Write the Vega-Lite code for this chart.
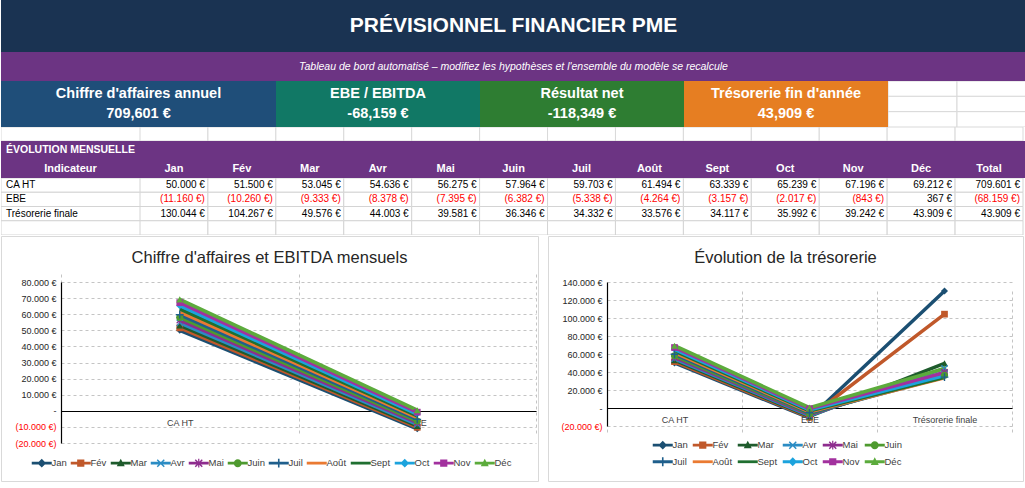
{
  "$schema": "https://vega.github.io/schema/vega-lite/v6.json",
  "padding": 0,
  "background": "white",
  "spacing": 0,
  "config": {
    "view": {"stroke": null},
    "axis": {"labelFont": "Liberation Sans"},
    "legend": {"labelFont": "Liberation Sans"}
  },
  "datasets": {
    "table": [
      {"ind": "CA HT", "col": "Jan", "v": 50000}, {"ind": "CA HT", "col": "Fév", "v": 51500}, {"ind": "CA HT", "col": "Mar", "v": 53045},
      {"ind": "CA HT", "col": "Avr", "v": 54636}, {"ind": "CA HT", "col": "Mai", "v": 56275}, {"ind": "CA HT", "col": "Juin", "v": 57964},
      {"ind": "CA HT", "col": "Juil", "v": 59703}, {"ind": "CA HT", "col": "Août", "v": 61494}, {"ind": "CA HT", "col": "Sept", "v": 63339},
      {"ind": "CA HT", "col": "Oct", "v": 65239}, {"ind": "CA HT", "col": "Nov", "v": 67196}, {"ind": "CA HT", "col": "Déc", "v": 69212},
      {"ind": "CA HT", "col": "Total", "v": 709601},
      {"ind": "EBE", "col": "Jan", "v": -11160}, {"ind": "EBE", "col": "Fév", "v": -10260}, {"ind": "EBE", "col": "Mar", "v": -9333},
      {"ind": "EBE", "col": "Avr", "v": -8378}, {"ind": "EBE", "col": "Mai", "v": -7395}, {"ind": "EBE", "col": "Juin", "v": -6382},
      {"ind": "EBE", "col": "Juil", "v": -5338}, {"ind": "EBE", "col": "Août", "v": -4264}, {"ind": "EBE", "col": "Sept", "v": -3157},
      {"ind": "EBE", "col": "Oct", "v": -2017}, {"ind": "EBE", "col": "Nov", "v": -843}, {"ind": "EBE", "col": "Déc", "v": 367},
      {"ind": "EBE", "col": "Total", "v": -68159},
      {"ind": "Trésorerie finale", "col": "Jan", "v": 130044}, {"ind": "Trésorerie finale", "col": "Fév", "v": 104267}, {"ind": "Trésorerie finale", "col": "Mar", "v": 49576},
      {"ind": "Trésorerie finale", "col": "Avr", "v": 44003}, {"ind": "Trésorerie finale", "col": "Mai", "v": 39581}, {"ind": "Trésorerie finale", "col": "Juin", "v": 36346},
      {"ind": "Trésorerie finale", "col": "Juil", "v": 34332}, {"ind": "Trésorerie finale", "col": "Août", "v": 33576}, {"ind": "Trésorerie finale", "col": "Sept", "v": 34117},
      {"ind": "Trésorerie finale", "col": "Oct", "v": 35992}, {"ind": "Trésorerie finale", "col": "Nov", "v": 39242}, {"ind": "Trésorerie finale", "col": "Déc", "v": 43909},
      {"ind": "Trésorerie finale", "col": "Total", "v": 43909},
      {"ind": "", "col": "Jan", "v": null}, {"ind": "", "col": "Fév", "v": null}, {"ind": "", "col": "Mar", "v": null},
      {"ind": "", "col": "Avr", "v": null}, {"ind": "", "col": "Mai", "v": null}, {"ind": "", "col": "Juin", "v": null},
      {"ind": "", "col": "Juil", "v": null}, {"ind": "", "col": "Août", "v": null}, {"ind": "", "col": "Sept", "v": null},
      {"ind": "", "col": "Oct", "v": null}, {"ind": "", "col": "Nov", "v": null}, {"ind": "", "col": "Déc", "v": null},
      {"ind": "", "col": "Total", "v": null}
    ]
  },
  "vconcat": [
    {
      "width": 1025, "height": 52,
      "view": {"fill": "#1a3352", "stroke": null},
      "data": {"values": [{"t": "PRÉVISIONNEL FINANCIER PME"}]},
      "mark": {"type": "text", "color": "white", "font": "Liberation Sans", "fontWeight": "bold", "fontSize": 21},
      "encoding": {"text": {"field": "t"}}
    },
    {
      "width": 1025, "height": 29,
      "view": {"fill": "#6c3483", "stroke": null},
      "data": {"values": [{"t": "Tableau de bord automatisé – modifiez les hypothèses et l'ensemble du modèle se recalcule"}]},
      "mark": {"type": "text", "color": "white", "font": "Liberation Sans", "fontStyle": "italic", "fontSize": 10.5},
      "encoding": {"text": {"field": "t"}}
    },
    {
      "hconcat": [
        {
          "width": 275, "height": 46,
          "view": {"fill": "#1f4e79", "stroke": null},
          "data": {"values": [{"p": "t", "s": "Chiffre d'affaires annuel"}, {"p": "v", "n": 709601}]},
          "transform": [{"calculate": "datum.p == 't' ? datum.s : (datum.n < 0 ? '-' : '') + format(abs(datum.n), ',') + ' €'", "as": "lab"}],
          "mark": {"type": "text", "color": "white", "font": "Liberation Sans", "fontWeight": "bold", "fontSize": 14.5},
          "encoding": {
            "y": {"field": "p", "type": "nominal", "bandPosition": 0.5, "scale": {"type": "band", "domain": ["t", "v"], "paddingInner": 0, "paddingOuter": 0.1}, "axis": null},
            "text": {"field": "lab"}
          }
        },
        {
          "width": 204, "height": 46,
          "view": {"fill": "#117865", "stroke": null},
          "data": {"values": [{"p": "t", "s": "EBE / EBITDA"}, {"p": "v", "n": -68159}]},
          "transform": [{"calculate": "datum.p == 't' ? datum.s : (datum.n < 0 ? '-' : '') + format(abs(datum.n), ',') + ' €'", "as": "lab"}],
          "mark": {"type": "text", "color": "white", "font": "Liberation Sans", "fontWeight": "bold", "fontSize": 14.5},
          "encoding": {
            "y": {"field": "p", "type": "nominal", "bandPosition": 0.5, "scale": {"type": "band", "domain": ["t", "v"], "paddingInner": 0, "paddingOuter": 0.1}, "axis": null},
            "text": {"field": "lab"}
          }
        },
        {
          "width": 204, "height": 46,
          "view": {"fill": "#2e7d32", "stroke": null},
          "data": {"values": [{"p": "t", "s": "Résultat net"}, {"p": "v", "n": -118349}]},
          "transform": [{"calculate": "datum.p == 't' ? datum.s : (datum.n < 0 ? '-' : '') + format(abs(datum.n), ',') + ' €'", "as": "lab"}],
          "mark": {"type": "text", "color": "white", "font": "Liberation Sans", "fontWeight": "bold", "fontSize": 14.5},
          "encoding": {
            "y": {"field": "p", "type": "nominal", "bandPosition": 0.5, "scale": {"type": "band", "domain": ["t", "v"], "paddingInner": 0, "paddingOuter": 0.1}, "axis": null},
            "text": {"field": "lab"}
          }
        },
        {
          "width": 204, "height": 46,
          "view": {"fill": "#e67e22", "stroke": null},
          "data": {"values": [{"p": "t", "s": "Trésorerie fin d'année"}, {"p": "v", "n": 43909}]},
          "transform": [{"calculate": "datum.p == 't' ? datum.s : (datum.n < 0 ? '-' : '') + format(abs(datum.n), ',') + ' €'", "as": "lab"}],
          "mark": {"type": "text", "color": "white", "font": "Liberation Sans", "fontWeight": "bold", "fontSize": 14.5},
          "encoding": {
            "y": {"field": "p", "type": "nominal", "bandPosition": 0.5, "scale": {"type": "band", "domain": ["t", "v"], "paddingInner": 0, "paddingOuter": 0.1}, "axis": null},
            "text": {"field": "lab"}
          }
        },
        {
          "width": 138, "height": 46,
          "data": {"values": [{"col": "N", "r": "1"}, {"col": "O", "r": "1"}, {"col": "N", "r": "2"}, {"col": "O", "r": "2"}, {"col": "N", "r": "3"}, {"col": "O", "r": "3"}]},
          "mark": {"type": "rect", "fill": "white", "stroke": "#d9d9d9", "strokeWidth": 1, "clip": true},
          "encoding": {
            "x": {"field": "col", "type": "nominal", "scale": {"type": "band", "paddingInner": 0, "paddingOuter": 0}, "axis": null},
            "y": {"field": "r", "type": "nominal", "scale": {"type": "band", "paddingInner": 0, "paddingOuter": 0}, "axis": null}
          }
        }
      ],
      "spacing": 0,
      "bounds": "flush"
    },
    {
      "hconcat": [
        {
          "width": 139, "height": 14,
          "data": {"values": [{"col": "Indicateur", "r": "g"}]},
          "mark": {"type": "rect", "fill": "white", "stroke": "#d9d9d9", "strokeWidth": 1, "clip": true},
          "encoding": {
            "x": {"field": "col", "type": "nominal", "scale": {"type": "band", "paddingInner": 0, "paddingOuter": 0}, "axis": null},
            "y": {"field": "r", "type": "nominal", "scale": {"type": "band", "paddingInner": 0, "paddingOuter": 0}, "axis": null}
          }
        },
        {
          "width": 886, "height": 14,
          "data": {"values": [{"col": "Jan", "r": "g"}, {"col": "Fév", "r": "g"}, {"col": "Mar", "r": "g"}, {"col": "Avr", "r": "g"}, {"col": "Mai", "r": "g"}, {"col": "Juin", "r": "g"}, {"col": "Juil", "r": "g"}, {"col": "Août", "r": "g"}, {"col": "Sept", "r": "g"}, {"col": "Oct", "r": "g"}, {"col": "Nov", "r": "g"}, {"col": "Déc", "r": "g"}, {"col": "Total", "r": "g"}]},
          "mark": {"type": "rect", "fill": "white", "stroke": "#d9d9d9", "strokeWidth": 1, "clip": true},
          "encoding": {
            "x": {"field": "col", "type": "nominal", "sort": null, "scale": {"type": "band", "paddingInner": 0, "paddingOuter": 0.022, "align": 0}, "axis": null},
            "y": {"field": "r", "type": "nominal", "scale": {"type": "band", "paddingInner": 0, "paddingOuter": 0}, "axis": null}
          }
        }
      ],
      "spacing": 0,
      "bounds": "flush"
    },
    {
      "hconcat": [
        {
          "width": 139, "height": 37,
          "view": {"fill": "#6c3483", "stroke": null},
          "data": {"values": [{"col": "Indicateur", "r": "sec", "t": "ÉVOLUTION MENSUELLE"}, {"col": "Indicateur", "r": "head", "t": "Indicateur"}]},
          "encoding": {
            "x": {"field": "col", "type": "nominal", "scale": {"type": "band", "paddingInner": 0, "paddingOuter": 0}, "axis": null},
            "y": {"field": "r", "type": "nominal", "bandPosition": 0.5, "scale": {"type": "band", "domain": ["sec", "head"], "paddingInner": 0, "paddingOuter": 0}, "axis": null},
            "text": {"field": "t"}
          },
          "layer": [
            {
              "transform": [{"filter": "datum.r == 'sec'"}],
              "mark": {"type": "text", "align": "left", "dx": 5, "color": "white", "font": "Liberation Sans", "fontWeight": "bold", "fontSize": 10.5},
              "encoding": {"x": {"field": "col", "type": "nominal", "bandPosition": 0}}
            },
            {
              "transform": [{"filter": "datum.r == 'head'"}],
              "mark": {"type": "text", "align": "center", "color": "white", "font": "Liberation Sans", "fontWeight": "bold", "fontSize": 11},
              "encoding": {"x": {"field": "col", "type": "nominal", "bandPosition": 0.5}}
            }
          ]
        },
        {
          "width": 886, "height": 37,
          "view": {"fill": "#6c3483", "stroke": null},
          "data": {"values": [{"col": "Jan", "r": "head"}, {"col": "Fév", "r": "head"}, {"col": "Mar", "r": "head"}, {"col": "Avr", "r": "head"}, {"col": "Mai", "r": "head"}, {"col": "Juin", "r": "head"}, {"col": "Juil", "r": "head"}, {"col": "Août", "r": "head"}, {"col": "Sept", "r": "head"}, {"col": "Oct", "r": "head"}, {"col": "Nov", "r": "head"}, {"col": "Déc", "r": "head"}, {"col": "Total", "r": "head"}]},
          "mark": {"type": "text", "align": "center", "color": "white", "font": "Liberation Sans", "fontWeight": "bold", "fontSize": 11},
          "encoding": {
            "x": {"field": "col", "type": "nominal", "sort": null, "bandPosition": 0.5, "scale": {"type": "band", "paddingInner": 0, "paddingOuter": 0.022, "align": 0}, "axis": null},
            "y": {"field": "r", "type": "nominal", "bandPosition": 0.5, "scale": {"type": "band", "domain": ["sec", "head"], "paddingInner": 0, "paddingOuter": 0}, "axis": null},
            "text": {"field": "col"}
          }
        }
      ],
      "spacing": 0,
      "bounds": "flush"
    },
    {
      "hconcat": [
        {
          "width": 139, "height": 57,
          "data": {"name": "table"},
          "transform": [{"filter": "datum.col == 'Jan'"}],
          "encoding": {
            "x": {"field": "col", "type": "nominal", "scale": {"type": "band", "paddingInner": 0, "paddingOuter": 0}, "axis": null},
            "y": {"field": "ind", "type": "nominal", "bandPosition": 0.5, "scale": {"type": "band", "domain": ["CA HT", "EBE", "Trésorerie finale", ""], "paddingInner": 0, "paddingOuter": 0}, "axis": null}
          },
          "layer": [
            {"mark": {"type": "rect", "fill": "white", "stroke": "#d4d4d4", "strokeWidth": 1, "clip": true}},
            {
              "mark": {"type": "text", "align": "left", "dx": 5, "color": "#000000", "font": "Liberation Sans", "fontSize": 10},
              "encoding": {"x": {"field": "col", "type": "nominal", "bandPosition": 0}, "text": {"field": "ind"}}
            }
          ]
        },
        {
          "width": 886, "height": 57,
          "data": {"name": "table"},
          "transform": [{"calculate": "datum.v == null ? '' : (datum.v < 0 ? '(' + replace(format(-datum.v, ','), ',', '.') + ' €)' : replace(format(datum.v, ','), ',', '.') + ' €')", "as": "lab"}],
          "encoding": {
            "x": {"field": "col", "type": "nominal", "scale": {"type": "band", "domain": ["Jan", "Fév", "Mar", "Avr", "Mai", "Juin", "Juil", "Août", "Sept", "Oct", "Nov", "Déc", "Total"], "paddingInner": 0, "paddingOuter": 0.022, "align": 0}, "axis": null},
            "y": {"field": "ind", "type": "nominal", "bandPosition": 0.5, "scale": {"type": "band", "domain": ["CA HT", "EBE", "Trésorerie finale", ""], "paddingInner": 0, "paddingOuter": 0}, "axis": null}
          },
          "layer": [
            {"mark": {"type": "rect", "fill": "white", "stroke": "#d4d4d4", "strokeWidth": 1, "clip": true}},
            {
              "mark": {"type": "text", "align": "right", "dx": -3, "font": "Liberation Sans", "fontSize": 10},
              "encoding": {
                "x": {"field": "col", "type": "nominal", "bandPosition": 1},
                "text": {"field": "lab"},
                "color": {"condition": {"test": "datum.v < 0", "value": "#ff0000"}, "value": "#000000"}
              }
            }
          ]
        }
      ],
      "spacing": 0,
      "bounds": "flush"
    },
    {
      "hconcat": [
        {
          "width": 537, "height": 245,
          "view": {"stroke": "#d9d9d9", "fill": "white"},
          "title": {"text": "Chiffre d'affaires et EBITDA mensuels", "offset": -46, "baseline": "bottom", "anchor": "middle", "font": "Liberation Sans", "fontSize": 16.5, "fontWeight": "normal", "color": "#262626"},
          "data": {"name": "table"},
          "transform": [{"filter": "datum.col != 'Total' && (datum.ind == 'CA HT' || datum.ind == 'EBE')"}],
          "encoding": {
            "x": {"field": "ind", "type": "nominal", "bandPosition": 0.5,
              "scale": {"type": "band", "domain": ["CA HT", "EBE"], "range": [60, 535], "paddingInner": 0, "paddingOuter": 0},
              "axis": {"orient": "bottom", "offset": -70, "title": null, "domain": true, "domainColor": "#000000", "domainWidth": 1.2, "ticks": false, "tickBand": "extent", "labelAngle": 0, "labelPadding": 7, "labelFontSize": 9, "labelColor": "#404040", "grid": true, "gridDash": [3, 3], "gridColor": "#c4c4c4"}},
            "y": {"field": "v", "type": "quantitative",
              "scale": {"domain": [-20000, 80000], "range": [207, 46], "nice": false, "zero": false},
              "axis": {"orient": "left", "offset": -60, "title": null, "values": [-20000, -10000, 0, 10000, 20000, 30000, 40000, 50000, 60000, 70000, 80000],
                "labelExpr": "datum.value == 0 ? '-' : (datum.value < 0 ? '(' + replace(format(-datum.value, ','), ',', '.') + ' €)' : replace(format(datum.value, ','), ',', '.') + ' €')",
                "labelColor": {"condition": {"test": "datum.value < 0", "value": "#ff0000"}, "value": "#262626"},
                "labelFontSize": 9, "labelPadding": 5, "ticks": false, "domain": true, "domainColor": "#000000", "domainWidth": 1.2, "grid": true, "gridDash": [3, 3], "gridColor": "#c4c4c4"}},
            "color": {"field": "col", "type": "nominal",
              "scale": {"domain": ["Jan", "Fév", "Mar", "Avr", "Mai", "Juin", "Juil", "Août", "Sept", "Oct", "Nov", "Déc"], "range": ["#1b4f72", "#c0582a", "#1e5b2c", "#2b8cc4", "#8e2c8e", "#4e9a2f", "#1f5f8c", "#ea7a32", "#1f6f30", "#1ca3dd", "#a2319e", "#5cab3c"]},
              "legend": {"orient": "none", "legendX": 36, "legendY": 222, "direction": "horizontal", "columns": 12, "title": null, "columnPadding": 3, "labelFontSize": 9.5, "labelColor": "#404040", "symbolSize": 64, "labelOffset": 5,
                "encode": {"symbols": {"update": {
                  "shape": {"signal": "{'Jan': 'M-2.5,-0.35H2.5V0.35H-2.5ZM0,-1.1L1.1,0L0,1.1L-1.1,0Z', 'Fév': 'M-2.5,-0.35H2.5V0.35H-2.5ZM-0.9,-0.9H0.9V0.9H-0.9Z', 'Mar': 'M-2.5,-0.35H2.5V0.35H-2.5ZM0,-1.1L1,0.8H-1Z', 'Avr': 'M-2.5,-0.35H2.5V0.35H-2.5ZM-1,-0.75L-0.75,-1L0,-0.25L0.75,-1L1,-0.75L0.25,0L1,0.75L0.75,1L0,0.25L-0.75,1L-1,0.75L-0.25,0Z', 'Mai': 'M-2.5,-0.35H2.5V0.35H-2.5ZM-1,-0.75L-0.75,-1L0,-0.25L0.75,-1L1,-0.75L0.25,0L1,0.75L0.75,1L0,0.25L-0.75,1L-1,0.75L-0.25,0ZM-0.15,-1.1H0.15V1.1H-0.15Z', 'Juin': 'M-2.5,-0.35H2.5V0.35H-2.5ZM-1,0A1,1 0 1,1 1,0A1,1 0 1,1 -1,0Z', 'Juil': 'M-2.5,-0.35H2.5V0.35H-2.5ZM-0.2,-1.1H0.2V1.1H-0.2Z', 'Août': 'M-2.5,-0.35H2.5V0.35H-2.5Z', 'Sept': 'M-2.5,-0.35H2.5V0.35H-2.5Z', 'Oct': 'M-2.5,-0.35H2.5V0.35H-2.5ZM0,-1.1L1.1,0L0,1.1L-1.1,0Z', 'Nov': 'M-2.5,-0.35H2.5V0.35H-2.5ZM-0.9,-0.9H0.9V0.9H-0.9Z', 'Déc': 'M-2.5,-0.35H2.5V0.35H-2.5ZM0,-1.1L1,0.8H-1Z'}[datum.value]"},
                  "fill": {"signal": "{'Jan': '#1b4f72', 'Fév': '#c0582a', 'Mar': '#1e5b2c', 'Avr': '#2b8cc4', 'Mai': '#8e2c8e', 'Juin': '#4e9a2f', 'Juil': '#1f5f8c', 'Août': '#ea7a32', 'Sept': '#1f6f30', 'Oct': '#1ca3dd', 'Nov': '#a2319e', 'Déc': '#5cab3c'}[datum.value]"},
                  "strokeWidth": {"value": 0},
                  "opacity": {"value": 1}
                }}}}
            }
          },
          "layer": [
            {"mark": {"type": "line", "strokeWidth": 3.5}},
            {"transform": [{"filter": "datum.col == 'Jan' || datum.col == 'Oct'"}], "mark": {"type": "point", "filled": true, "size": 50, "opacity": 1, "shape": "diamond"}},
            {"transform": [{"filter": "datum.col == 'Fév' || datum.col == 'Nov'"}], "mark": {"type": "point", "filled": true, "size": 45, "opacity": 1, "shape": "square"}},
            {"transform": [{"filter": "datum.col == 'Mar' || datum.col == 'Déc'"}], "mark": {"type": "point", "filled": true, "size": 50, "opacity": 1, "shape": "triangle-up"}},
            {"transform": [{"filter": "datum.col == 'Avr'"}], "mark": {"type": "point", "filled": true, "size": 50, "opacity": 1, "shape": "M-1,-0.75L-0.75,-1L0,-0.25L0.75,-1L1,-0.75L0.25,0L1,0.75L0.75,1L0,0.25L-0.75,1L-1,0.75L-0.25,0Z"}},
            {"transform": [{"filter": "datum.col == 'Mai'"}], "mark": {"type": "point", "filled": true, "size": 50, "opacity": 1, "shape": "M-1,-0.75L-0.75,-1L0,-0.25L0.75,-1L1,-0.75L0.25,0L1,0.75L0.75,1L0,0.25L-0.75,1L-1,0.75L-0.25,0ZM-0.15,-1.1H0.15V1.1H-0.15Z"}},
            {"transform": [{"filter": "datum.col == 'Juin'"}], "mark": {"type": "point", "filled": true, "size": 50, "opacity": 1, "shape": "circle"}},
            {"transform": [{"filter": "datum.col == 'Juil'"}], "mark": {"type": "point", "filled": true, "size": 50, "opacity": 1, "shape": "M-0.2,-1.1H0.2V-0.2H1.1V0.2H0.2V1.1H-0.2V0.2H-1.1V-0.2H-0.2Z"}}
          ]
        },
        {
          "width": 475, "height": 245,
          "view": {"stroke": "#d9d9d9", "fill": "white"},
          "title": {"text": "Évolution de la trésorerie", "offset": -46, "baseline": "bottom", "anchor": "middle", "font": "Liberation Sans", "fontSize": 16.5, "fontWeight": "normal", "color": "#262626"},
          "data": {"name": "table"},
          "transform": [{"filter": "datum.col != 'Total' && datum.ind != ''"}],
          "encoding": {
            "x": {"field": "ind", "type": "nominal", "bandPosition": 0.5,
              "scale": {"type": "band", "domain": ["CA HT", "EBE", "Trésorerie finale"], "range": [59, 464], "paddingInner": 0, "paddingOuter": 0},
              "axis": {"orient": "bottom", "offset": -73, "title": null, "domain": true, "domainColor": "#000000", "domainWidth": 1.2, "ticks": false, "tickBand": "extent", "labelAngle": 0, "labelPadding": 7, "labelFontSize": 9, "labelColor": "#404040", "grid": true, "gridDash": [3, 3], "gridColor": "#c4c4c4"}},
            "y": {"field": "v", "type": "quantitative",
              "scale": {"domain": [-20000, 140000], "range": [190, 46], "nice": false, "zero": false},
              "axis": {"orient": "left", "offset": -59, "title": null, "values": [-20000, 0, 20000, 40000, 60000, 80000, 100000, 120000, 140000],
                "labelExpr": "datum.value == 0 ? '-' : (datum.value < 0 ? '(' + replace(format(-datum.value, ','), ',', '.') + ' €)' : replace(format(datum.value, ','), ',', '.') + ' €')",
                "labelColor": {"condition": {"test": "datum.value < 0", "value": "#ff0000"}, "value": "#262626"},
                "labelFontSize": 9, "labelPadding": 5, "ticks": false, "domain": true, "domainColor": "#000000", "domainWidth": 1.2, "grid": true, "gridDash": [3, 3], "gridColor": "#c4c4c4"}},
            "color": {"field": "col", "type": "nominal",
              "scale": {"domain": ["Jan", "Fév", "Mar", "Avr", "Mai", "Juin", "Juil", "Août", "Sept", "Oct", "Nov", "Déc"], "range": ["#1b4f72", "#c0582a", "#1e5b2c", "#2b8cc4", "#8e2c8e", "#4e9a2f", "#1f5f8c", "#ea7a32", "#1f6f30", "#1ca3dd", "#a2319e", "#5cab3c"]},
              "legend": {"orient": "none", "legendX": 110, "legendY": 204, "direction": "horizontal", "columns": 6, "title": null, "columnPadding": 4, "rowPadding": 6, "labelFontSize": 9.5, "labelColor": "#404040", "symbolSize": 64, "labelOffset": 5,
                "encode": {"symbols": {"update": {
                  "shape": {"signal": "{'Jan': 'M-2.5,-0.35H2.5V0.35H-2.5ZM0,-1.1L1.1,0L0,1.1L-1.1,0Z', 'Fév': 'M-2.5,-0.35H2.5V0.35H-2.5ZM-0.9,-0.9H0.9V0.9H-0.9Z', 'Mar': 'M-2.5,-0.35H2.5V0.35H-2.5ZM0,-1.1L1,0.8H-1Z', 'Avr': 'M-2.5,-0.35H2.5V0.35H-2.5ZM-1,-0.75L-0.75,-1L0,-0.25L0.75,-1L1,-0.75L0.25,0L1,0.75L0.75,1L0,0.25L-0.75,1L-1,0.75L-0.25,0Z', 'Mai': 'M-2.5,-0.35H2.5V0.35H-2.5ZM-1,-0.75L-0.75,-1L0,-0.25L0.75,-1L1,-0.75L0.25,0L1,0.75L0.75,1L0,0.25L-0.75,1L-1,0.75L-0.25,0ZM-0.15,-1.1H0.15V1.1H-0.15Z', 'Juin': 'M-2.5,-0.35H2.5V0.35H-2.5ZM-1,0A1,1 0 1,1 1,0A1,1 0 1,1 -1,0Z', 'Juil': 'M-2.5,-0.35H2.5V0.35H-2.5ZM-0.2,-1.1H0.2V1.1H-0.2Z', 'Août': 'M-2.5,-0.35H2.5V0.35H-2.5Z', 'Sept': 'M-2.5,-0.35H2.5V0.35H-2.5Z', 'Oct': 'M-2.5,-0.35H2.5V0.35H-2.5ZM0,-1.1L1.1,0L0,1.1L-1.1,0Z', 'Nov': 'M-2.5,-0.35H2.5V0.35H-2.5ZM-0.9,-0.9H0.9V0.9H-0.9Z', 'Déc': 'M-2.5,-0.35H2.5V0.35H-2.5ZM0,-1.1L1,0.8H-1Z'}[datum.value]"},
                  "fill": {"signal": "{'Jan': '#1b4f72', 'Fév': '#c0582a', 'Mar': '#1e5b2c', 'Avr': '#2b8cc4', 'Mai': '#8e2c8e', 'Juin': '#4e9a2f', 'Juil': '#1f5f8c', 'Août': '#ea7a32', 'Sept': '#1f6f30', 'Oct': '#1ca3dd', 'Nov': '#a2319e', 'Déc': '#5cab3c'}[datum.value]"},
                  "strokeWidth": {"value": 0},
                  "opacity": {"value": 1}
                }}}}
            }
          },
          "layer": [
            {"mark": {"type": "line", "strokeWidth": 3.5}},
            {"transform": [{"filter": "datum.col == 'Jan' || datum.col == 'Oct'"}], "mark": {"type": "point", "filled": true, "size": 50, "opacity": 1, "shape": "diamond"}},
            {"transform": [{"filter": "datum.col == 'Fév' || datum.col == 'Nov'"}], "mark": {"type": "point", "filled": true, "size": 45, "opacity": 1, "shape": "square"}},
            {"transform": [{"filter": "datum.col == 'Mar' || datum.col == 'Déc'"}], "mark": {"type": "point", "filled": true, "size": 50, "opacity": 1, "shape": "triangle-up"}},
            {"transform": [{"filter": "datum.col == 'Avr'"}], "mark": {"type": "point", "filled": true, "size": 50, "opacity": 1, "shape": "M-1,-0.75L-0.75,-1L0,-0.25L0.75,-1L1,-0.75L0.25,0L1,0.75L0.75,1L0,0.25L-0.75,1L-1,0.75L-0.25,0Z"}},
            {"transform": [{"filter": "datum.col == 'Mai'"}], "mark": {"type": "point", "filled": true, "size": 50, "opacity": 1, "shape": "M-1,-0.75L-0.75,-1L0,-0.25L0.75,-1L1,-0.75L0.25,0L1,0.75L0.75,1L0,0.25L-0.75,1L-1,0.75L-0.25,0ZM-0.15,-1.1H0.15V1.1H-0.15Z"}},
            {"transform": [{"filter": "datum.col == 'Juin'"}], "mark": {"type": "point", "filled": true, "size": 50, "opacity": 1, "shape": "circle"}},
            {"transform": [{"filter": "datum.col == 'Juil'"}], "mark": {"type": "point", "filled": true, "size": 50, "opacity": 1, "shape": "M-0.2,-1.1H0.2V-0.2H1.1V0.2H0.2V1.1H-0.2V0.2H-1.1V-0.2H-0.2Z"}}
          ]
        }
      ],
      "spacing": 10,
      "bounds": "flush",
      "resolve": {"scale": {"color": "independent"}, "legend": {"color": "independent"}}
    }
  ]
}
